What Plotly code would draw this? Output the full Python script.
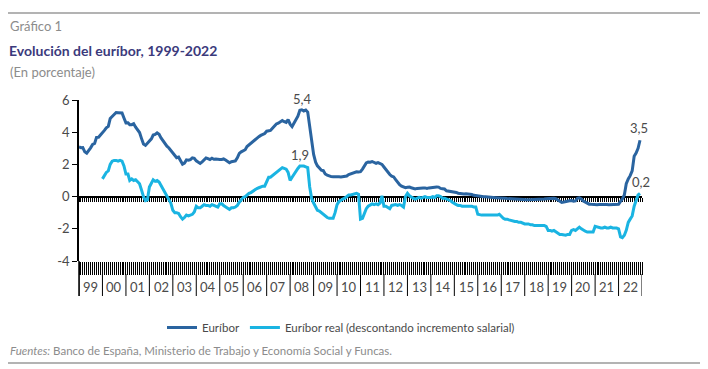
import pandas as pd
import plotly.graph_objects as go

# ---------------- data ----------------
euribor = [
    3.09, 3.04, 3.05, 2.78, 2.70, 2.84, 3.03, 3.24, 3.30, 3.68, 3.69, 3.83,
    3.95, 4.11, 4.27, 4.36, 4.85, 4.96, 5.11, 5.22, 5.21, 5.19, 5.19, 4.88,
    4.58, 4.59, 4.47, 4.47, 4.53, 4.31, 4.18, 3.98, 3.60, 3.26, 3.18, 3.30,
    3.48, 3.59, 3.82, 3.86, 3.96, 3.87, 3.64, 3.44, 3.24, 3.13, 3.02, 2.87,
    2.71, 2.50, 2.41, 2.45, 2.25, 2.01, 2.08, 2.28, 2.26, 2.30, 2.41, 2.38,
    2.22, 2.16, 2.06, 2.16, 2.30, 2.40, 2.36, 2.30, 2.38, 2.32, 2.33, 2.30,
    2.31, 2.31, 2.34, 2.27, 2.19, 2.10, 2.17, 2.22, 2.22, 2.41, 2.68, 2.78,
    2.83, 2.91, 3.11, 3.22, 3.31, 3.40, 3.54, 3.62, 3.72, 3.80, 3.86, 3.92,
    4.06, 4.09, 4.11, 4.25, 4.37, 4.51, 4.56, 4.67, 4.73, 4.65, 4.61, 4.79,
    4.50, 4.35, 4.59, 4.82, 4.99, 5.36, 5.39, 5.32, 5.38, 5.25, 4.35, 3.45,
    2.62, 2.14, 1.91, 1.77, 1.64, 1.61, 1.41, 1.33, 1.26, 1.24, 1.23, 1.24,
    1.23, 1.23, 1.22, 1.23, 1.25, 1.28, 1.37, 1.42, 1.42, 1.50, 1.54, 1.53,
    1.55, 1.71, 1.92, 2.09, 2.15, 2.14, 2.18, 2.10, 2.07, 2.11, 2.04, 2.00,
    1.84, 1.68, 1.50, 1.37, 1.27, 1.22, 1.06, 0.88, 0.74, 0.65, 0.59, 0.55,
    0.58, 0.59, 0.55, 0.53, 0.48, 0.51, 0.53, 0.54, 0.54, 0.54, 0.51, 0.54,
    0.56, 0.55, 0.58, 0.60, 0.59, 0.51, 0.49, 0.47, 0.36, 0.34, 0.33, 0.33,
    0.30, 0.26, 0.21, 0.18, 0.17, 0.16, 0.17, 0.16, 0.15, 0.13, 0.08, 0.06,
    0.04, -0.01, -0.01, -0.01, -0.01, -0.03, -0.06, -0.05, -0.06, -0.07, -0.07, -0.08,
    -0.09, -0.11, -0.11, -0.12, -0.13, -0.15, -0.15, -0.16, -0.17, -0.18, -0.19, -0.19,
    -0.19, -0.19, -0.19, -0.19, -0.19, -0.18, -0.18, -0.17, -0.17, -0.15, -0.15, -0.13,
    -0.12, -0.11, -0.11, -0.11, -0.13, -0.19, -0.28, -0.36, -0.34, -0.30, -0.27, -0.26,
    -0.25, -0.29, -0.27, -0.11, -0.08, -0.15, -0.28, -0.36, -0.42, -0.47, -0.48, -0.50,
    -0.51, -0.50, -0.49, -0.48, -0.48, -0.48, -0.49, -0.50, -0.49, -0.48, -0.49, -0.50,
    -0.48, -0.30, -0.15, 0.10, 0.80, 1.10, 1.30, 1.60, 2.50, 2.70, 3.00, 3.50,
]

euribor_real = [
    1.10, 1.30, 1.50, 1.60, 2.00, 2.20, 2.25, 2.25, 2.20, 2.25, 2.20, 1.90,
    1.40, 1.40, 1.00, 1.10, 1.00, 1.05, 0.90, 0.80, 0.40, 0.00, -0.25, -0.20,
    0.60, 0.90, 1.05, 0.95, 1.00, 0.90, 0.70, 0.45, 0.20, 0.00, -0.20, -0.40,
    -0.85, -1.00, -1.00, -1.05, -1.25, -1.40, -1.30, -1.15, -1.20, -1.15, -1.10, -0.95,
    -0.60, -0.70, -0.70, -0.60, -0.50, -0.55, -0.55, -0.60, -0.50, -0.55, -0.60, -0.65,
    -0.45, -0.45, -0.55, -0.65, -0.75, -0.80, -0.70, -0.70, -0.65, -0.55, -0.35, -0.20,
    -0.05, 0.00, 0.10, 0.20, 0.25, 0.35, 0.40, 0.50, 0.55, 0.60, 0.65, 0.65,
    0.90, 1.20, 1.20, 1.30, 1.40, 1.50, 1.60, 1.70, 1.80, 1.75, 1.70, 1.50,
    1.00, 1.20, 1.40, 1.60, 1.75, 1.90, 1.90, 1.90, 1.85, 1.80, 0.60, -0.10,
    -0.40, -0.60, -0.85, -0.90, -1.00, -1.10, -1.15, -1.30, -1.35, -1.35, -1.35, -1.00,
    -0.50, -0.30, -0.20, -0.15, -0.10, 0.00, 0.10, 0.10, 0.15, 0.15, 0.20, 0.15,
    -1.40, -1.35, -1.00, -0.75, -0.60, -0.50, -0.45, -0.50, -0.45, -0.50, -0.40, 0.05,
    -0.60, -0.60, -0.65, -0.75, -0.55, -0.50, -0.50, -0.55, -0.50, -0.55, -0.65, 0.00,
    0.20, 0.05, -0.05, -0.10, -0.15, -0.10, -0.05, -0.10, -0.05, 0.00, -0.05, -0.05,
    -0.05, 0.00, -0.05, 0.05, 0.05, 0.00, -0.10, -0.10, -0.15, -0.20, -0.25, -0.35,
    -0.45, -0.50, -0.55, -0.55, -0.60, -0.60, -0.60, -0.60, -0.60, -0.60, -0.65, -0.65,
    -1.10, -1.15, -1.15, -1.15, -1.15, -1.15, -1.15, -1.15, -1.15, -1.15, -1.15, -1.10,
    -1.25, -1.35, -1.40, -1.40, -1.45, -1.50, -1.50, -1.55, -1.55, -1.60, -1.60, -1.65,
    -1.70, -1.70, -1.70, -1.75, -1.75, -1.80, -1.80, -1.80, -1.80, -1.80, -1.80, -1.85,
    -2.10, -2.10, -2.15, -2.10, -2.20, -2.30, -2.35, -2.35, -2.40, -2.40, -2.35, -2.35,
    -2.10, -2.05, -2.10, -2.00, -1.90, -2.00, -2.10, -2.15, -2.20, -2.20, -2.20, -2.20,
    -1.85, -1.90, -1.95, -1.95, -1.95, -1.90, -1.95, -1.95, -1.90, -1.95, -1.95, -1.95,
    -2.00, -2.50, -2.55, -2.40, -2.10, -1.60, -1.40, -1.20, -0.60, -0.20, 0.10, 0.20,
]

euribor_start = "1999-01-01"
real_start = "2000-01-01"
year_labels = ["99", "00", "01", "02", "03", "04", "05", "06", "07", "08", "09", "10",
               "11", "12", "13", "14", "15", "16", "17", "18", "19", "20", "21", "22"]
y_ticks = [-4, -2, 0, 2, 4, 6]

# ---------------- derived ----------------
dates_eur = pd.date_range(euribor_start, periods=len(euribor), freq="MS")
dates_real = pd.date_range(real_start, periods=len(euribor_real), freq="MS")
month_ticks = pd.date_range("1999-01-01", "2023-01-01", freq="MS")
year_starts = pd.date_range("1999-01-01", "2023-01-01", freq="YS")

C_EUR = "#2a64a0"
C_REAL = "#1ab4e2"
TXT = "#4a4a4a"
GREY = "#8c8c8c"
FONT = "Lato"

# the page body has an 8px margin: figure pixel = screen pixel - OFF
OFF = 8
W, H = 700, 361
PLOT_X0, PLOT_X1 = 79 - OFF, 642 - OFF
PLOT_Y0, PLOT_Y1 = 100 - OFF, 261 - OFF
L, R, T, B = PLOT_X0, W - PLOT_X1, PLOT_Y0, H - PLOT_Y1
PH = PLOT_Y1 - PLOT_Y0
PW = PLOT_X1 - PLOT_X0


def py(screen_y):
    return (PLOT_Y1 - (screen_y - OFF)) / PH


def px(screen_x):
    return ((screen_x - OFF) - PLOT_X0) / PW


fig = go.Figure()
fig.add_trace(go.Scatter(
    x=dates_eur, y=euribor, mode="lines", name="Euríbor",
    line=dict(color=C_EUR, width=3), xaxis="x", yaxis="y"))
fig.add_trace(go.Scatter(
    x=dates_real, y=euribor_real, mode="lines",
    name="Euríbor real (descontando incremento salarial)",
    line=dict(color=C_REAL, width=3), xaxis="x2", yaxis="y"))

zero_pos = (0 - y_ticks[0]) / (y_ticks[-1] - y_ticks[0])

fig.update_layout(
    width=W, height=H,
    margin=dict(l=L, r=R, t=T, b=B, autoexpand=False),
    paper_bgcolor="white", plot_bgcolor="white",
    font=dict(family=FONT, color=TXT, size=12),
    showlegend=True,
    legend=dict(orientation="h", x=px(341), xanchor="center", y=py(313), yanchor="top",
                font=dict(size=11.5, color=TXT), itemwidth=30, tracegroupgap=0,
                bgcolor="rgba(0,0,0,0)"),
    xaxis=dict(type="date", range=[month_ticks[0], month_ticks[-1]],
               tickvals=list(month_ticks), ticks="outside", ticklen=13, tickwidth=1,
               tickcolor="black", showticklabels=False, showgrid=False,
               showline=False, zeroline=False, fixedrange=True, automargin=False),
    xaxis2=dict(type="date", overlaying="x", matches="x", anchor="free",
                position=zero_pos, side="bottom",
                tickvals=list(month_ticks), ticks="outside", ticklen=4, tickwidth=1,
                tickcolor="black", showticklabels=False, showgrid=False,
                showline=True, linecolor="black", linewidth=2, zeroline=False,
                layer="below traces", automargin=False),
    yaxis=dict(range=[y_ticks[0], y_ticks[-1]], tickvals=y_ticks,
               ticktext=[str(v) for v in y_ticks],
               ticks="outside", ticklen=5, tickwidth=1.2, tickcolor="black",
               showline=True, linecolor="black", linewidth=1.5,
               showgrid=False, zeroline=False, automargin=False,
               tickfont=dict(size=13, color=TXT)),
)

shapes = []
# extension of y axis line down through the year band
shapes.append(dict(type="line", xref="paper", yref="paper", x0=0, x1=0,
                   y0=0, y1=py(296), line=dict(color="black", width=1.5)))
# year separators
for d in year_starts:
    shapes.append(dict(type="line", xref="x", yref="paper", x0=d, x1=d,
                       y0=py(274), y1=py(296), line=dict(color="black", width=1)))
# frame rules
shapes.append(dict(type="line", xref="paper", yref="paper", x0=px(8), x1=px(702),
                   y0=py(13), y1=py(13), line=dict(color="#9a9a9a", width=1.5)))
shapes.append(dict(type="line", xref="paper", yref="paper", x0=px(8), x1=px(702),
                   y0=py(363), y1=py(363), line=dict(color="#9a9a9a", width=1.5)))
fig.update_layout(shapes=shapes)

ann = []
# year labels
for i, lab in enumerate(year_labels):
    mid = year_starts[i] + (year_starts[i + 1] - year_starts[i]) / 2
    ann.append(dict(x=mid, y=py(287), xref="x", yref="paper", text=lab,
                    showarrow=False, font=dict(size=13, color=TXT),
                    xanchor="center", yanchor="middle"))

# value labels
imax_e = max(range(len(euribor)), key=lambda k: euribor[k])
imax_r = max(range(60, 120), key=lambda k: euribor_real[k])
ann.append(dict(x=dates_eur[imax_e], y=euribor[imax_e], xref="x", yref="y",
                text=f"{euribor[imax_e]:.1f}".replace(".", ","), showarrow=False,
                yanchor="bottom", yshift=1, font=dict(size=13, color=TXT)))
ann.append(dict(x=dates_real[imax_r], y=euribor_real[imax_r], xref="x", yref="y",
                text=f"{euribor_real[imax_r]:.1f}".replace(".", ","), showarrow=False,
                yanchor="bottom", yshift=1, font=dict(size=13, color=TXT)))
ann.append(dict(x=dates_eur[-1], y=euribor[-1], xref="x", yref="y",
                text=f"{euribor[-1]:.1f}".replace(".", ","), showarrow=False,
                yanchor="bottom", yshift=2, xshift=-1, font=dict(size=13, color=TXT)))
ann.append(dict(x=dates_real[-1], y=euribor_real[-1], xref="x", yref="y",
                text=f"{euribor_real[-1]:.1f}".replace(".", ","), showarrow=False,
                yanchor="bottom", yshift=1, xshift=1, font=dict(size=13, color=TXT)))

# header texts
ann.append(dict(x=px(8), y=py(26), xref="paper", yref="paper", text="Gráfico 1",
                showarrow=False, xanchor="left", yanchor="middle",
                font=dict(size=13, color=GREY)))
ann.append(dict(x=px(7), y=py(50), xref="paper", yref="paper",
                text="<b>Evolución del euríbor, 1999-2022</b>",
                showarrow=False, xanchor="left", yanchor="middle",
                font=dict(size=14, color="#3b3a7c")))
ann.append(dict(x=px(8), y=py(72), xref="paper", yref="paper", text="(En porcentaje)",
                showarrow=False, xanchor="left", yanchor="middle",
                font=dict(size=13, color=GREY)))
ann.append(dict(x=px(8), y=py(350), xref="paper", yref="paper",
                text="<i>Fuentes:</i> Banco de España, Ministerio de Trabajo y Economía Social y Funcas.",
                showarrow=False, xanchor="left", yanchor="middle",
                font=dict(size=11.5, color=GREY)))
fig.update_layout(annotations=ann)

fig.write_html("out.html")
